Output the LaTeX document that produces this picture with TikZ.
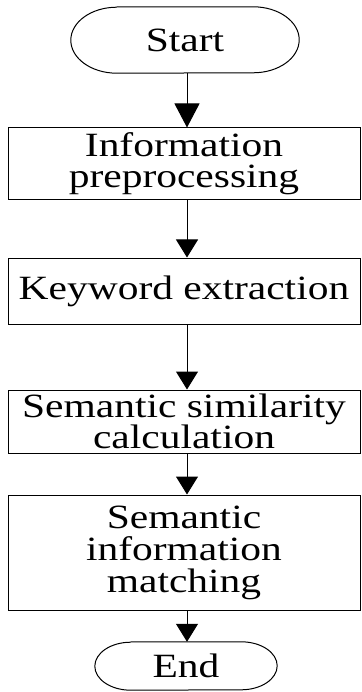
\documentclass[tikz,border=0pt]{standalone}
\usepackage{fontspec}
\setmainfont{Liberation Serif}[FakeStretch=1.22]
\usetikzlibrary{arrows.meta}

\tikzset{
  txt/.style={font=\fontsize{34pt}{31pt}\selectfont, align=center, inner sep=0pt},
  procbox/.style={txt, draw, line width=1pt, minimum width=352pt},
  terminal/.style={txt, draw=none},
  flow/.style={line width=1pt, -{Triangle[length=18pt,width=22pt]}},
  outline/.style={line width=1pt}
}

\begin{document}
\begin{tikzpicture}[x=1pt, y=-1pt]
  \useasboundingbox (0,0) rectangle (361,692);

  % terminals (flat top/bottom with elliptical ends)
  \node[terminal, minimum width=136pt, minimum height=66pt] (start) at (185,40) {Start};
  \draw[outline] (start.north west) -- (start.north east)
    arc[start angle=90, end angle=-90, x radius=46pt, y radius=33pt]
    -- (start.south west)
    arc[start angle=270, end angle=90, x radius=46pt, y radius=33pt];

  % process steps
  \node[procbox, minimum height=72pt] (prep) at (184,164) {Information\\preprocessing};
  \node[procbox, minimum height=66pt] (kw) at (184,291) {Keyword extraction};
  \node[procbox, minimum height=63pt] (sim) at (184,421.5) {Semantic similarity\\calculation};
  \node[procbox, minimum height=115pt, font=\fontsize{34pt}{32pt}\selectfont] (match) at (184,552.5) {Semantic\\information\\matching};

  \node[terminal, minimum width=110pt, minimum height=48pt] (end) at (186,666) {End};
  \draw[outline] (end.north west) -- (end.north east)
    arc[start angle=90, end angle=-90, x radius=36pt, y radius=24pt]
    -- (end.south west)
    arc[start angle=270, end angle=90, x radius=36pt, y radius=24pt];

  % connectors
  \draw[line width=1pt, -{Triangle[length=24pt,width=25pt]}]
    ([xshift=2pt]start.south) -- ([xshift=3pt]prep.north);
  \draw[flow] ([xshift=3pt]prep.south) -- ([xshift=3pt]kw.north);
  \draw[flow] ([xshift=3pt]kw.south) -- ([xshift=3pt]sim.north);
  \draw[flow] ([xshift=3pt]sim.south) -- ([xshift=3pt]match.north);
  \draw[flow] ([xshift=3pt]match.south) -- ([xshift=1pt]end.north);
\end{tikzpicture}
\end{document}
